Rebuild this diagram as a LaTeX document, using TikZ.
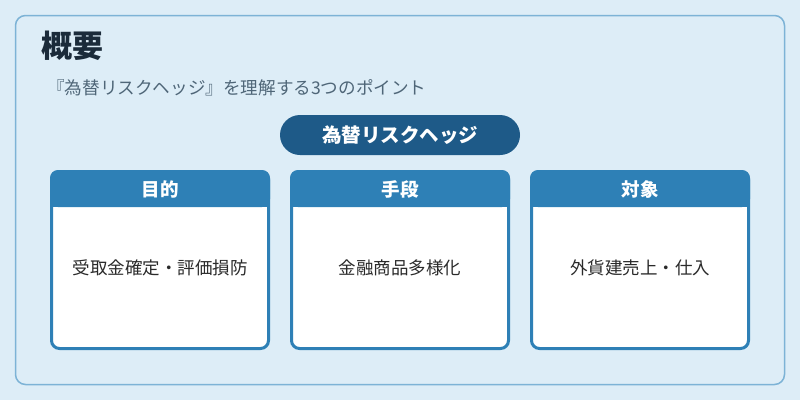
\documentclass[tikz,border=0pt]{standalone}
\usepackage{fontspec}
\setmainfont{Noto Sans CJK JP}
\definecolor{bgc}{HTML}{DDEDF7}
\definecolor{framec}{HTML}{7DB3D6}
\definecolor{titlec}{HTML}{1B2B3A}
\definecolor{subc}{HTML}{4F6678}
\definecolor{pillc}{HTML}{1E5A88}
\definecolor{headc}{HTML}{2E80B6}
\definecolor{textc}{HTML}{2A2A2A}
\begin{document}
\begin{tikzpicture}[x=1pt,y=-1pt,
  framebox/.style={draw=framec,line width=1.5pt,fill=bgc,rounded corners=10pt},
  card/.style={draw=headc,line width=3pt,fill=white,rounded corners=8pt},
  headtxt/.style={text=white,font=\fontsize{18.5}{22}\selectfont\bfseries,anchor=center},
  bodytxt/.style={text=textc,font=\fontsize{17.5}{20}\selectfont,anchor=center}]
\fill[bgc] (0,0) rectangle (800,400);
\useasboundingbox (0,0) rectangle (800,400);
\draw[framebox] (15.5,15.5) rectangle (784.5,384.5);
\node[anchor=west,inner sep=0pt,text=titlec,font=\fontsize{31}{34}\selectfont\bfseries] (title) at (41,46) {概要};
\node[anchor=west,inner sep=0pt,text=subc,font=\fontsize{17.6}{20}\selectfont] (sub) at (47,88) {『為替リスクヘッジ』を理解する3つのポイント};
\node[fill=pillc,rounded corners=20pt,minimum width=240pt,minimum height=40pt,text=white,font=\fontsize{19.5}{22}\selectfont\bfseries] (pill) at (400,135) {為替リスクヘッジ};
\foreach \i/\x/\h/\b in {1/50/目的/受取金確定・評価損防,2/290/手段/金融商品多様化,3/530/対象/外貨建売上・仕入}{
  \begin{scope}
  \draw[card] (\x+1.5,171.5) rectangle (\x+218.5,348.5);
  \fill[headc,rounded corners=8pt] (\x,170) -- (\x+220,170) -- (\x+220,207) -- (\x,207) -- cycle;
  \fill[headc] (\x,195) rectangle (\x+220,207);
  \node[headtxt] (h\i) at (\x+110,189) {\h};
  \node[bodytxt] (b\i) at (\x+110,268) {\b};
  \end{scope}
}
\end{tikzpicture}
\end{document}
